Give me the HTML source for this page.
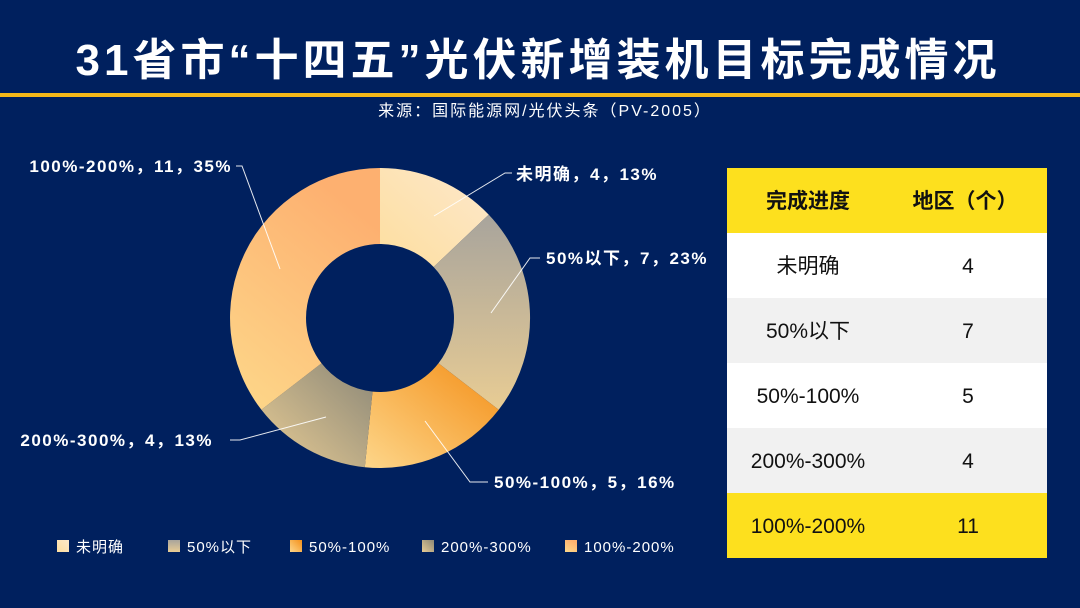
<!DOCTYPE html>
<html><head><meta charset="utf-8"><style>
body{margin:0;width:1080px;height:608px;background:#00205e;overflow:hidden;font-family:"Liberation Sans","Noto Sans CJK SC",sans-serif;}
</style></head><body>
<svg width="1080" height="608" xmlns="http://www.w3.org/2000/svg" style="position:absolute;left:0;top:0">
<defs>
<linearGradient id="g1" x1="1" y1="0" x2="0" y2="1"><stop offset="0" stop-color="#fde8cc"/><stop offset="1" stop-color="#fdde9e"/></linearGradient>
<linearGradient id="g2" x1="0.3" y1="0" x2="0.3" y2="1"><stop offset="0" stop-color="#a8a49c"/><stop offset="1" stop-color="#e8cc94"/></linearGradient>
<linearGradient id="g3" x1="1" y1="0" x2="0" y2="1"><stop offset="0" stop-color="#f4901a"/><stop offset="1" stop-color="#fdd68a"/></linearGradient>
<linearGradient id="g4" x1="1" y1="0" x2="0" y2="1"><stop offset="0" stop-color="#8c8878"/><stop offset="1" stop-color="#e8cc94"/></linearGradient>
<linearGradient id="g5" x1="0.5" y1="0" x2="0" y2="1"><stop offset="0" stop-color="#fdb070"/><stop offset="1" stop-color="#fdd88a"/></linearGradient>
</defs>
<text x="538" y="75" fill="#fff" font-size="44" font-weight="bold" text-anchor="middle" letter-spacing="4">31省市“十四五”光伏新增装机目标完成情况</text>
<rect x="0" y="93" width="1080" height="4" fill="#f5b818"/>
<text x="545" y="116" fill="#fff" font-size="16" text-anchor="middle" letter-spacing="2">来源：国际能源网/光伏头条（PV-2005）</text>

<path d="M380,168 A150,150 0 0 1 488.7,214.6 L433.6,267 A74,74 0 0 0 380,244Z" fill="url(#g1)"/>
<path d="M488.7,214.6 A150,150 0 0 1 498.7,409.8 L438.5,363.3 A74,74 0 0 0 433.6,267Z" fill="url(#g2)"/>
<path d="M498.7,409.8 A150,150 0 0 1 364.8,467.2 L372.5,391.6 A74,74 0 0 0 438.5,363.3Z" fill="url(#g3)"/>
<path d="M364.8,467.2 A150,150 0 0 1 261.4,409.8 L321.5,363.3 A74,74 0 0 0 372.5,391.6Z" fill="url(#g4)"/>
<path d="M261.4,409.8 A150,150 0 0 1 380,168 L380,244 A74,74 0 0 0 321.5,363.3Z" fill="url(#g5)"/>

<g stroke="#fff" stroke-width="1" fill="none" opacity="0.9">
<polyline points="434,216 505,173 512,173"/>
<polyline points="491,313 530,258 540,258"/>
<polyline points="425,421 470,482 488,482"/>
<polyline points="326,417 240,440 230,440"/>
<polyline points="280,269 242,166 236,166"/>
</g>
<g fill="#fff" font-size="17" font-weight="bold" letter-spacing="1.5">
<text x="516" y="180">未明确，4，13%</text>
<text x="546" y="264">50%以下，7，23%</text>
<text x="494" y="488">50%-100%，5，16%</text>
<text x="213" y="446" text-anchor="end">200%-300%，4，13%</text>
<text x="232" y="172" text-anchor="end">100%-200%，11，35%</text>
</g>
<g font-size="15" fill="#fff" letter-spacing="1">
<rect x="57" y="540" width="12" height="12" fill="url(#g1)"/><text x="76" y="552">未明确</text>
<rect x="168" y="540" width="12" height="12" fill="url(#g2)"/><text x="187" y="552">50%以下</text>
<rect x="290" y="540" width="12" height="12" fill="url(#g3)"/><text x="309" y="552">50%-100%</text>
<rect x="422" y="540" width="12" height="12" fill="url(#g4)"/><text x="441" y="552">200%-300%</text>
<rect x="565" y="540" width="12" height="12" fill="url(#g5)"/><text x="584" y="552">100%-200%</text>
</g>

<rect x="727" y="168" width="320" height="65" fill="#fde01e"/>
<rect x="727" y="233" width="320" height="65" fill="#ffffff"/>
<rect x="727" y="298" width="320" height="65" fill="#f1f1f1"/>
<rect x="727" y="363" width="320" height="65" fill="#ffffff"/>
<rect x="727" y="428" width="320" height="65" fill="#f1f1f1"/>
<rect x="727" y="493" width="320" height="65" fill="#fde01e"/>
<g font-size="21" fill="#111" text-anchor="middle">
<text x="808" y="208" font-weight="bold">完成进度</text><text x="965" y="208" font-weight="bold">地区（个）</text>
<text x="808" y="273">未明确</text><text x="968" y="273">4</text>
<text x="808" y="338">50%以下</text><text x="968" y="338">7</text>
<text x="808" y="403">50%-100%</text><text x="968" y="403">5</text>
<text x="808" y="468">200%-300%</text><text x="968" y="468">4</text>
<text x="808" y="533">100%-200%</text><text x="968" y="533">11</text>
</g>
</svg>
</body></html>
